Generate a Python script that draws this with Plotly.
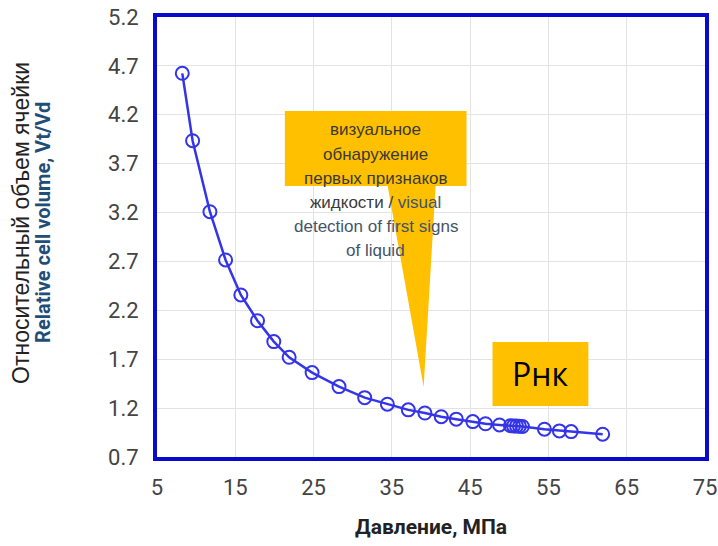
import plotly.graph_objects as go

# Data
pressure_mpa = [8.23, 9.55, 11.76, 13.76, 15.71, 17.84, 19.92, 21.88, 24.81, 28.25,
                31.53, 34.43, 37.10, 39.22, 41.31, 43.23, 45.34, 46.96, 48.75,
                50.15, 50.54, 50.92, 51.30, 51.68, 54.49, 56.40, 57.90, 61.93]
rel_volume = [4.624, 3.935, 3.209, 2.715, 2.357, 2.094, 1.880, 1.720, 1.563, 1.420,
              1.307, 1.240, 1.182, 1.150, 1.112, 1.087, 1.062, 1.040, 1.028,
              1.020, 1.018, 1.016, 1.014, 1.012, 0.984, 0.967, 0.960, 0.933]

x_ticks = [5, 15, 25, 35, 45, 55, 65, 75]
y_ticks = [0.7, 1.2, 1.7, 2.2, 2.7, 3.2, 3.7, 4.2, 4.7, 5.2]

callout_lines = [
    "<span style='color:#3a3a3a'>визуальное</span>",
    "<span style='color:#3a3a3a'>обнаружение</span>",
    "<span style='color:#3a3a3a'>первых признаков</span>",
    "<span style='color:#3a3a3a'>жидкости / </span><span style='color:#44546A'>visual</span>",
    "<span style='color:#44546A'>detection of first signs</span>",
    "<span style='color:#44546A'>of liquid</span>",
]

# Callout geometry (data coordinates)
callout_box = dict(x0=21.33, x1=44.54, y0=3.472, y1=4.239)
callout_tail = dict(xl=34.46, xr=40.59, tip_x=39.06, tip_y=1.417)
pnk_box = dict(x0=47.86, x1=60.10, y0=1.222, y1=1.877)

ORANGE = "#FFC000"
BORDER = "#0A0ACC"
LINE = "#3434E8"
TICKFONT = "Roboto, Liberation Sans, sans-serif"

fig = go.Figure()

fig.add_trace(go.Scatter(
    x=pressure_mpa, y=rel_volume, mode="lines+markers",
    line=dict(color=LINE, width=2.5),
    marker=dict(symbol="circle-open", size=13, color=LINE, line=dict(width=2, color=LINE)),
    showlegend=False, hoverinfo="skip",
))

b, t = callout_box, callout_tail
path = (f"M {b['x0']},{b['y1']} L {b['x1']},{b['y1']} L {b['x1']},{b['y0']} "
        f"L {t['xr']},{b['y0']} L {t['tip_x']},{t['tip_y']} L {t['xl']},{b['y0']} "
        f"L {b['x0']},{b['y0']} Z")
fig.add_shape(type="path", path=path, xref="x", yref="y",
              fillcolor=ORANGE, line=dict(width=0), layer="above")
fig.add_shape(type="rect", xref="x", yref="y", x0=pnk_box["x0"], x1=pnk_box["x1"],
              y0=pnk_box["y0"], y1=pnk_box["y1"], fillcolor=ORANGE, line=dict(width=0),
              layer="above")

for i, line_txt in enumerate(callout_lines):
    fig.add_annotation(x=(b["x0"] + b["x1"]) / 2, y=b["y1"], xref="x", yref="y",
                       yanchor="middle", yshift=-19 - i * 24.2, text=line_txt, showarrow=False,
                       font=dict(family="Liberation Sans, Arial, sans-serif", size=17,
                                 color="#3a3a3a"),
                       align="center")
fig.add_annotation(x=(pnk_box["x0"] + pnk_box["x1"]) / 2, y=(pnk_box["y0"] + pnk_box["y1"]) / 2,
                   xref="x", yref="y", text="Рнк", showarrow=False,
                   font=dict(family="Open Sans, Noto Sans, sans-serif", size=32, color="#000000"))

# Axis titles
fig.add_annotation(x=0, y=0.532, xref="paper", yref="paper", xshift=-151,
                   text="Относительный объем ячейки", textangle=-90, showarrow=False,
                   font=dict(family="Liberation Sans, Arial, sans-serif", size=23, color="#222222"))
fig.add_annotation(x=0, y=0.532, xref="paper", yref="paper", xshift=-128,
                   text="<b>Relative cell volume, Vt/Vd</b>", textangle=-90, showarrow=False,
                   font=dict(family="Roboto, Liberation Sans, sans-serif", size=20, color="#1F4E79"))
fig.add_annotation(x=0.5, y=0, xref="paper", yref="paper", yshift=-70, yanchor="middle",
                   text="<b>Давление, МПа</b>", showarrow=False,
                   font=dict(family=TICKFONT, size=21, color="#222222"))

fig.update_xaxes(range=[5, 75], tickvals=x_ticks, ticktext=[str(v) for v in x_ticks],
                 showgrid=True, gridcolor="#E3E3E3", gridwidth=1, zeroline=False,
                 showline=True, linecolor=BORDER, linewidth=4, mirror=True,
                 ticks="", ticklabelstandoff=8, automargin=False,
                 ticklabeloverflow="allow",
                 tickfont=dict(family=TICKFONT, size=22, color="#444444"))
fig.update_yaxes(range=[0.7, 5.2], tickvals=y_ticks, ticktext=[f"{v:.1f}" for v in y_ticks],
                 showgrid=True, gridcolor="#E3E3E3", gridwidth=1, zeroline=False,
                 showline=True, linecolor=BORDER, linewidth=4, mirror=True,
                 ticks="", ticklabelstandoff=10, automargin=False,
                 ticklabeloverflow="allow",
                 tickfont=dict(family=TICKFONT, size=22, color="#444444"))

fig.update_layout(width=718, height=546, margin=dict(l=157, r=13, t=17, b=89),
                  paper_bgcolor="white", plot_bgcolor="white")

fig.write_html("out.html")
